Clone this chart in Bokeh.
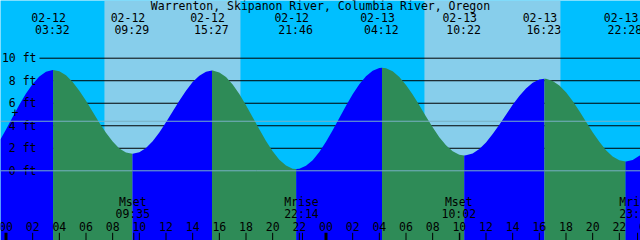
from bokeh.plotting import figure
from bokeh.models import Range1d, BoxAnnotation, Span, Label
from bokeh.core.properties import value
from bokeh.embed import file_html
from bokeh.resources import INLINE

# ---------------- data ----------------
title = "Warrenton, Skipanon River, Columbia River, Oregon"

tide_dates = ["02-12", "02-12", "02-12", "02-12", "02-13", "02-13", "02-13", "02-13"]
tide_times = ["03:32", "09:29", "15:27", "21:46", "04:12", "10:22", "16:23", "22:28"]
tide_kinds = ["H", "L", "H", "L", "H", "L", "H", "L"]
tide_ft = [8.95, 1.51, 8.90, 0.15, 9.15, 1.36, 8.17, 0.83]

# tide height read at every whole hour from 02-12 00:00 (hour 0) to hour 47
hourly_ft = [3.66, 5.86, 7.71, 8.79, 8.84, 7.89, 6.22, 4.27, 2.60, 1.63,
             1.65, 2.63, 4.31, 6.23, 7.88, 8.80, 8.74, 7.66, 5.83, 3.68,
             1.73, 0.47, 0.18, 0.94, 2.57, 4.69, 6.79, 8.40, 9.13, 8.83,
             7.63, 5.82, 3.86, 2.27, 1.43, 1.54, 2.52, 4.10, 5.86, 7.32,
             8.10, 7.98, 6.97, 5.30, 3.43, 1.83, 0.94, 0.97]
# tide height read at every half hour (hour 0.5 to hour 47.5)
half_hour_ft = [4.77, 6.86, 8.38, 8.95, 8.48, 7.12, 5.24, 3.37, 1.99, 1.51,
                2.03, 3.40, 5.27, 7.12, 8.45, 8.90, 8.32, 6.82, 4.76, 2.65,
                0.99, 0.19, 0.44, 1.67, 3.60, 5.78, 7.68, 8.89, 9.10, 8.33,
                6.77, 4.83, 2.99, 1.73, 1.37, 1.94, 3.26, 4.98, 6.65, 7.81,
                8.17, 7.58, 6.19, 4.36, 2.57, 1.28, 0.83, 1.33]
edge_hours = [-0.42, 47.6]
edge_ft = [2.78, 1.40]

sun_dates = ["02-12", "02-13"]
sunrise = ["07:23", "07:23"]
sunset = ["17:35", "17:35"]

moon_dates = ["02-12", "02-12", "02-13", "02-13"]
moon_events = ["Mset", "Mrise", "Mset", "Mrise"]
moon_times = ["09:35", "22:14", "10:02", "23:22"]

depth_ticks = [0, 2, 4, 6, 8, 10]
depth_labels = ["0 ft", "2 ft", "4 ft", "6 ft", "8 ft", "10 ft"]
msl_ft = 4.4

hour_ticks = list(range(0, 49, 2))
hour_labels = ["00", "02", "04", "06", "08", "10", "12", "14", "16", "18", "20", "22",
               "00", "02", "04", "06", "08", "10", "12", "14", "16", "18", "20", "22", "00"]

# ---------------- helpers ----------------
def to_hours(date, hhmm):
    day = int(date[3:]) - 12
    hh, mm = hhmm.split(":")
    return day * 24 + int(hh) + int(mm) / 60.0

PX_H = 640 / 48.0
X0 = -5.5 / PX_H
FT_PX = 11.26
ZERO_ROW = 170.3
Y_TOP = ZERO_ROW / FT_PX
Y_BOT = (ZERO_ROW - 240) / FT_PX

def ft_at(row):
    return (ZERO_ROW - row) / FT_PX

def h_at(col):
    return X0 + col / PX_H

FONT = value("DejaVu Sans Mono")
FS = "11.5px"

p = figure(width=640, height=240, x_range=Range1d(X0, X0 + 48),
           y_range=Range1d(Y_BOT, Y_TOP), toolbar_location=None,
           output_backend="svg", min_border=0, x_axis_location=None,
           y_axis_location=None)
p.outline_line_color = None
p.grid.visible = False
p.background_fill_color = "#00BFFF"
p.border_fill_color = "#00BFFF"

# daylight
for d, r, s in zip(sun_dates, sunrise, sunset):
    p.add_layout(BoxAnnotation(left=to_hours(d, r), right=to_hours(d, s),
                               fill_color="#87CEEB", fill_alpha=1.0,
                               line_color=None, level="underlay"))

# depth lines (behind the water)
p.segment(x0=[h_at(39)] * len(depth_ticks), y0=depth_ticks,
          x1=[X0 + 48] * len(depth_ticks), y1=depth_ticks,
          line_color="black", line_width=1)

# tide curve points
ext_hours = [to_hours(d, t) for d, t in zip(tide_dates, tide_times)]
pts = [(float(h), f) for h, f in enumerate(hourly_ft)]
pts += [(h + 0.5, f) for h, f in enumerate(half_hour_ft)]
pts += list(zip(ext_hours, tide_ft))
pts += list(zip(edge_hours, edge_ft))
pts.sort()

bounds = [edge_hours[0]] + ext_hours + [edge_hours[1]]
kinds = tide_kinds + ["H"]
for i in range(len(bounds) - 1):
    a, b = bounds[i], bounds[i + 1]
    seg = [(t, f) for t, f in pts if a - 1e-9 <= t <= b + 1e-9]
    xs = [t for t, _ in seg]
    ys = [f for _, f in seg]
    color = "#0000FF" if kinds[i] == "H" else "#2E8B57"
    p.varea(x=xs, y1=[Y_BOT - 1] * len(xs), y2=ys, fill_color=color)

# datum and mean sea level lines
p.add_layout(Span(location=0, dimension="width", line_color="#78B0C4", line_width=1))
p.add_layout(Span(location=msl_ft, dimension="width", line_color="#78B0C4", line_width=1))

# depth labels
p.text(x=[h_at(36)] * len(depth_ticks), y=depth_ticks, text=depth_labels,
       text_align="right", text_baseline="middle", text_font=FONT,
       text_font_size=FS, text_color="black")
p.text(x=[h_at(14.5)], y=[ft_at(111.7)], text=["+"], text_align="center",
       text_baseline="middle", text_font=FONT, text_font_size=FS, text_color="black")

# title
p.add_layout(Label(x=320, y=240 - 5.5, x_units="screen", y_units="screen",
                   text=title, text_align="center", text_baseline="middle",
                   text_font="DejaVu Sans Mono", text_font_size=FS,
                   text_color="black"))

# tide event labels
p.text(x=ext_hours, y=[ft_at(17.3)] * len(ext_hours), text=tide_dates,
       x_offset=-4.5, text_align="center", text_baseline="middle",
       text_font=FONT, text_font_size=FS, text_color="black")
p.text(x=ext_hours, y=[ft_at(29)] * len(ext_hours), text=tide_times,
       x_offset=-0.7, text_align="center", text_baseline="middle",
       text_font=FONT, text_font_size=FS, text_color="black")

# moon events
moon_hours = [to_hours(d, t) for d, t in zip(moon_dates, moon_times)]
p.text(x=moon_hours, y=[ft_at(201)] * len(moon_hours), text=moon_events,
       x_offset=-1, text_align="center", text_baseline="middle",
       text_font=FONT, text_font_size=FS, text_color="black")
p.text(x=moon_hours, y=[ft_at(213)] * len(moon_hours), text=moon_times,
       x_offset=-1, text_align="center", text_baseline="middle",
       text_font=FONT, text_font_size=FS, text_color="black")
p.segment(x0=moon_hours, y0=[ft_at(232.3)] * len(moon_hours), x1=moon_hours,
          y1=[Y_BOT - 1] * len(moon_hours), line_color="black", line_width=1)

# hour ticks and labels
minor = [h for h in hour_ticks if h % 24 != 0]
major = [h for h in hour_ticks if h % 24 == 0]
p.segment(x0=minor, y0=[ft_at(232.3)] * len(minor), x1=minor,
          y1=[Y_BOT - 1] * len(minor), line_color="black", line_width=1)
p.segment(x0=major, y0=[ft_at(232.3)] * len(major), x1=major,
          y1=[Y_BOT - 1] * len(major), line_color="black", line_width=3)
p.text(x=hour_ticks, y=[ft_at(225.7)] * len(hour_ticks), text=hour_labels,
       text_align="center", text_baseline="middle", text_font=FONT,
       text_font_size=FS, text_color="black")

open("out.html", "w").write(file_html(p, INLINE))
